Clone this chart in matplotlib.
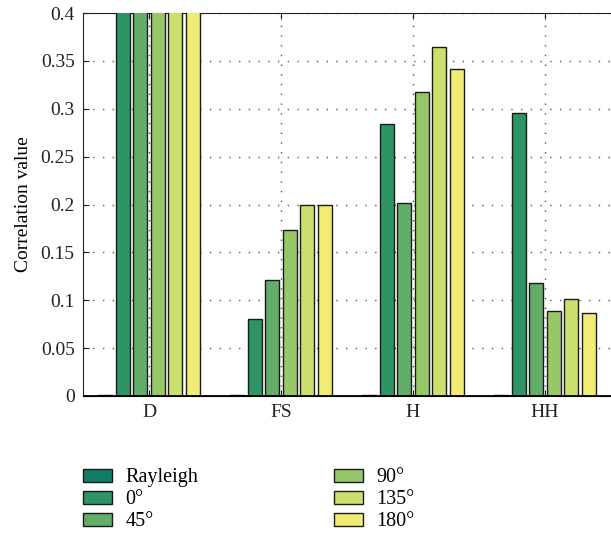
import numpy as np
import matplotlib.pyplot as plt
from matplotlib.patches import Patch

# Datos
grupos = ["D", "FS", "H", "HH"]
series = ["Rayleigh", "0°", "45°", "90°", "135°", "180°"]
valores = {
    "Rayleigh": [0.001, 0.001, 0.001, 0.001],
    "0°": [0.5, 0.080, 0.284, 0.296],
    "45°": [0.5, 0.121, 0.202, 0.118],
    "90°": [0.5, 0.173, 0.317, 0.089],
    "135°": [0.5, 0.199, 0.365, 0.101],
    "180°": [0.5, 0.200, 0.341, 0.087],
}
colores = ["#117d68", "#2e9365", "#62ad68", "#98c769", "#cbdf6c", "#f0ec74"]

plt.rcParams['font.family'] = ['Liberation Serif', 'DejaVu Serif']
plt.rcParams['font.size'] = 14

fig = plt.figure(figsize=(6.11, 5.42), dpi=100)
ax = fig.add_axes([83/611, 1 - 396/542, 528/611, 383/542])

x = np.arange(1, len(grupos) + 1)
n = len(series)
slot = 0.8 / n
for i, s in enumerate(series):
    pos = x - 0.4 + slot * (i + 0.5)
    ax.bar(pos, valores[s], width=slot * 0.8, color=colores[i],
           edgecolor="#1a1a1a", linewidth=1.0, zorder=3)

ax.set_xlim(0.5, 4.5)
ax.set_ylim(0, 0.4)
ax.set_xticks(x)
ax.set_xticklabels(grupos)
ax.set_yticks(np.arange(0, 0.401, 0.05))
ax.set_yticklabels(["0", "0.05", "0.1", "0.15", "0.2", "0.25", "0.3", "0.35", "0.4"])
ax.tick_params(direction="in", length=4, top=True, right=False, pad=6, colors="#222222")
ax.grid(True, linestyle=(0, (1, 6)), color="#555555", linewidth=1.0, zorder=1)
ax.set_ylabel("Correlation value", labelpad=6)
ax.axhline(0, color="black", linewidth=2, zorder=4)
for lado in ["left", "top"]:
    ax.spines[lado].set_color("#222222")
ax.spines["right"].set_visible(False)

# Leyenda
handles = [Patch(facecolor=c, edgecolor="#1a1a1a", label=s) for s, c in zip(series, colores)]
fig.legend(handles=handles, loc="upper left", bbox_to_anchor=(65/611, 1 - 450/542),
           ncol=2, frameon=False, handlelength=1.45, handleheight=0.62,
           labelspacing=0.15, columnspacing=6.75, handletextpad=0.65, fontsize=14.5)

plt.savefig("out.png", dpi=100)
